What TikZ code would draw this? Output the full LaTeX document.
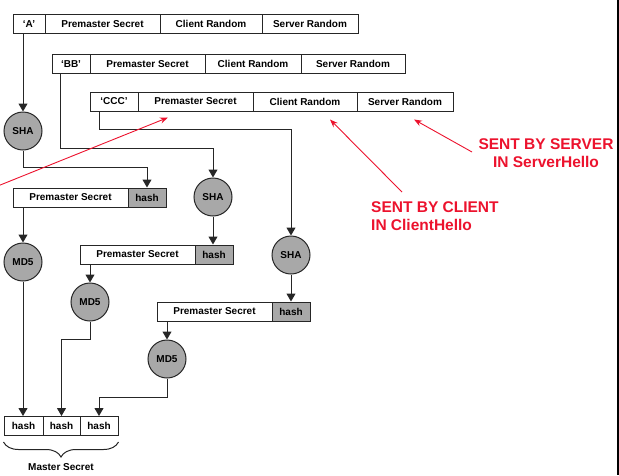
\documentclass[tikz,border=0pt]{standalone}
\usepackage{fontspec}
\setmainfont{Liberation Sans}
\usetikzlibrary{calc, arrows.meta, decorations.pathreplacing}
\definecolor{opgray}{RGB}{168,168,168}
\definecolor{notered}{RGB}{236,18,45}
\tikzset{
  cell/.style={draw=black!85, line width=1pt, minimum height=19pt, inner sep=0pt, font=\fontsize{10}{12}\selectfont\bfseries},
  hashcell/.style={cell, fill=opgray},
  op/.style={circle, draw=black!85, line width=1pt, fill=opgray, minimum size=38pt, inner sep=0pt, font=\fontsize{10}{12}\selectfont\bfseries},
  flow/.style={line width=1pt, draw=black!85, -{Triangle[width=9pt,length=8pt]}},
  note/.style={text=notered, font=\fontsize{15.5}{18.5}\selectfont\bfseries, inner sep=0pt},
  pointer/.style={notered, line width=0.9pt, -{Stealth[length=8pt,width=6pt]}}
}
\begin{document}
\begin{tikzpicture}[x=1pt, y=-1pt]
    \useasboundingbox (0,0) rectangle (619,475);

      \node[cell, minimum width=32pt] (a0) at (29,24) {`A'};
      \node[cell, minimum width=115pt] (a1) at (102.5,24) {Premaster Secret};
      \node[cell, minimum width=102pt] (a2) at (211,24) {Client Random};
      \node[cell, minimum width=96pt] (a3) at (310,24) {Server Random};

      \node[cell, minimum width=38pt] (b0) at (71,64) {`BB'};
      \node[cell, minimum width=115pt] (b1) at (147.5,64) {Premaster Secret};
      \node[cell, minimum width=96pt] (b2) at (253,64) {Client Random};
      \node[cell, minimum width=104pt] (b3) at (353,64) {Server Random};

      \node[cell, minimum width=48pt] (c0) at (114,101.5) {`CCC'};
      \node[cell, minimum width=115pt] (c1) at (195.5,101.5) {Premaster Secret};
      \node[cell, minimum width=104pt] (c2) at (305,101.5) {Client Random};
      \node[cell, minimum width=96pt] (c3) at (405,101.5) {Server Random};

      \node[op] (s1) at (23,131) {SHA};
      \node[op] (s2) at (213,197) {SHA};
      \node[op] (s3) at (291,255) {SHA};

      \node[cell, fill=white, minimum width=115pt] (p1) at (70.5,197.5) {Premaster Secret};
      \node[hashcell, minimum width=38pt] (h1) at (147,197.5) {hash};
      \node[cell, fill=white, minimum width=115pt] (p2) at (137.5,254.5) {Premaster Secret};
      \node[hashcell, minimum width=38pt] (h2) at (214,254.5) {hash};
      \node[cell, fill=white, minimum width=115pt] (p3) at (214.5,311.5) {Premaster Secret};
      \node[hashcell, minimum width=38pt] (h3) at (291,311.5) {hash};

      \node[op] (d1) at (23,262) {MD5};
      \node[op] (d2) at (90,302) {MD5};
      \node[op] (d3) at (167,359) {MD5};

      \node[cell, minimum width=39pt] (m1) at (23.5,426) {hash};
      \node[cell, minimum width=37pt] (m2) at (61.5,426) {hash};
      \node[cell, minimum width=38pt] (m3) at (99,426) {hash};
      \node[font=\fontsize{10}{12}\selectfont\bfseries] (ms) at (61,467.5) {Master Secret};

      \draw[flow] (s1.north |- a0.south) -- (s1.north);
      \draw[flow] (s1.south) -- ++(0,17) -| (h1.north);
      \draw[flow] ($(b0.south west)+(9,0)$) -- ++(0,74.5) -| (s2.north);
      \draw[flow] ($(c0.south west)+(10,0)$) -- ++(0,18) -| (s3.north);
      \draw[flow] (s2.south) -- (s2.south |- h2.north);
      \draw[flow] (s3.south) -- (s3.south |- h3.north);

      \draw[flow] (d1.north |- p1.south) -- (d1.north);
      \draw[flow] (d2.north |- p2.south) -- (d2.north);
      \draw[flow] (d3.north |- p3.south) -- (d3.north);

      \draw[flow] (d1.south) -- (d1.south |- m1.north);
      \draw[flow] (d2.south) -- ++(0,18) -| (m2.north);
      \draw[flow] (d3.south) -- ++(0,19) -| (m3.north);

      \draw[line width=1pt, black!85, decorate, decoration={brace, mirror, amplitude=15pt}] ($(m1.south west)+(0,6)$) -- ($(m3.south east)+(0,6)$);

      \node[note, align=center] (sv) at (546,153) {SENT BY SERVER\\IN ServerHello};
      \node[note, align=left, anchor=north west] (cl) at (371,201) {SENT BY CLIENT\\IN ClientHello};
      \coordinate (psTail) at (-1,185.5);
      \coordinate (clTail) at (402,192);
      \coordinate (svTail) at (472,152);
      \draw[pointer] (psTail) -- ($(c1.south)+(-27.5,6)$);
      \draw[pointer] (clTail) -- ($(c2.south)+(25,8)$);
      \draw[pointer] (svTail) -- ($(c3.south)+(9,8)$);

      \draw[line width=1.5pt] (618,0) -- (618,475);
    \end{tikzpicture}
\end{document}
